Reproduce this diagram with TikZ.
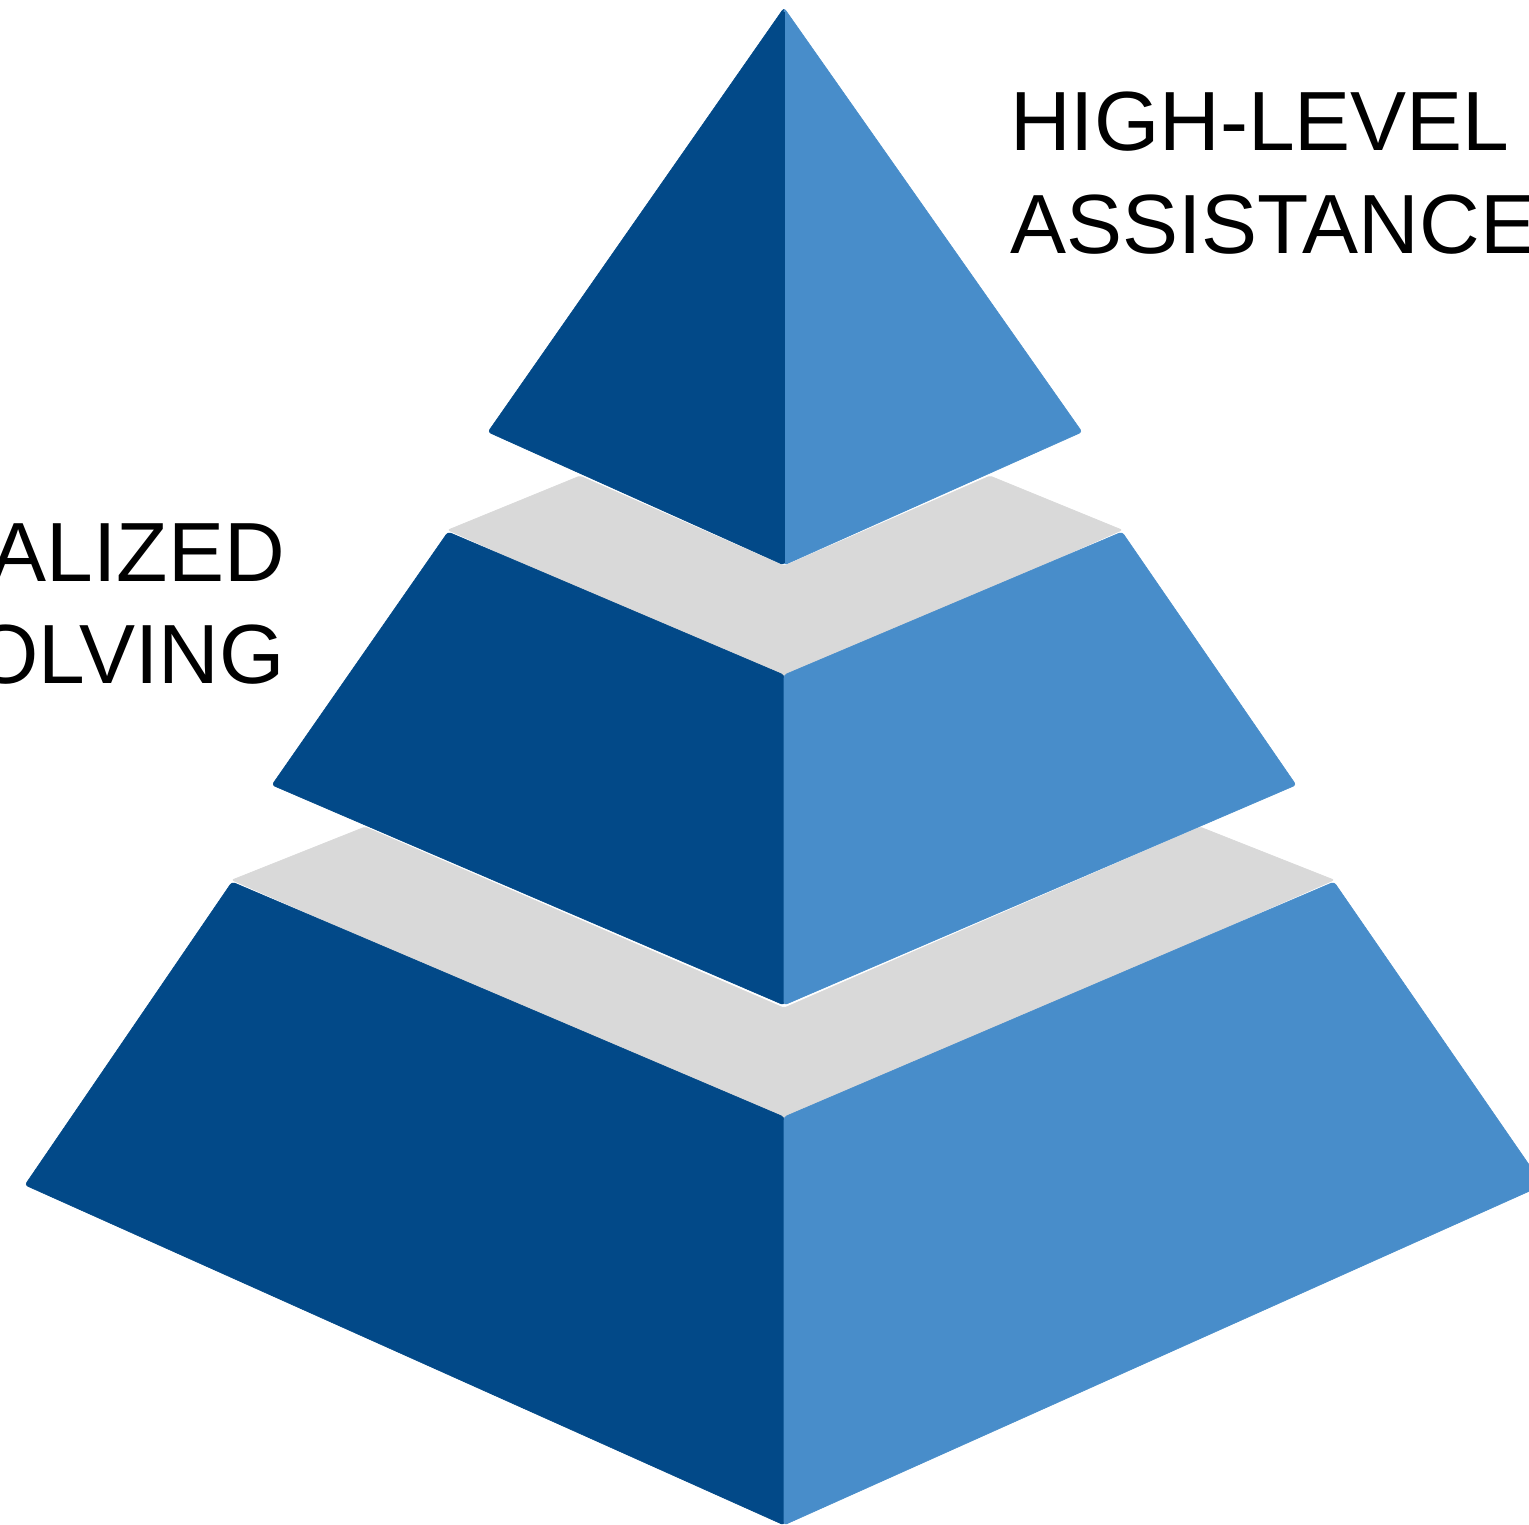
\documentclass[tikz,border=0pt]{standalone}
\usepackage{fontspec}
\setmainfont{Liberation Sans}
\definecolor{darkface}{RGB}{2,73,136}
\definecolor{lightface}{RGB}{72,141,202}
\definecolor{bandgrey}{RGB}{217,217,217}
\tikzset{
  dface/.style={fill=darkface, draw=darkface, line width=0.6pt, rounded corners=3pt},
  lface/.style={fill=lightface, draw=lightface, line width=0.6pt, rounded corners=3pt},
  band/.style={fill=bandgrey, draw=bandgrey, line width=0.6pt, rounded corners=2pt},
  lbl/.style={inner sep=0pt, font=\fontsize{84}{103}\selectfont, text=black}
}
\begin{document}
\begin{tikzpicture}[x=1pt,y=-1pt]
\useasboundingbox (0,0) rectangle (1529,1525);
\clip (0,0) rectangle (1529,1525);
\fill[white] (0,0) rectangle (1529,1525);
% grey bands
\path[band] (448,530) -- (580,476) -- (784,566) -- (990,476) -- (1122,530) -- (784,680) -- cycle;
\path[band] (232,880) -- (365,827) -- (784,1008) -- (1200,827) -- (1334,880) -- (784,1122) -- cycle;
% top tier
\path[dface] (784,8) -- (488,432) -- (784,565) -- cycle;
\path[lface] (784,8) -- (1082,432) -- (784,565) -- cycle;
\fill[darkface] (783,12) -- (785,12) -- (785,563) -- (783,563) -- cycle;
% middle tier
\path[dface] (448,532) -- (784,675) -- (784,1005) -- (272,785) -- cycle;
\path[lface] (1122,532) -- (1296,785) -- (784,1005) -- (784,675) -- cycle;
% bottom tier
\path[dface] (232,882) -- (784,1117) -- (784,1525) -- (25,1185) -- cycle;
\path[lface] (1334,882) -- (1543,1185) -- (784,1525) -- (784,1117) -- cycle;
% labels
\node[lbl, anchor=base west, align=left] (high) at (1010,254) {HIGH-LEVEL\\ASSISTANCE};
\node[lbl, anchor=base east, align=right] (pers) at (285,581) {ALIZED};
\node[lbl, anchor=base east, align=right] (solv) at (285,683) {OLVING};
\end{tikzpicture}
\end{document}
